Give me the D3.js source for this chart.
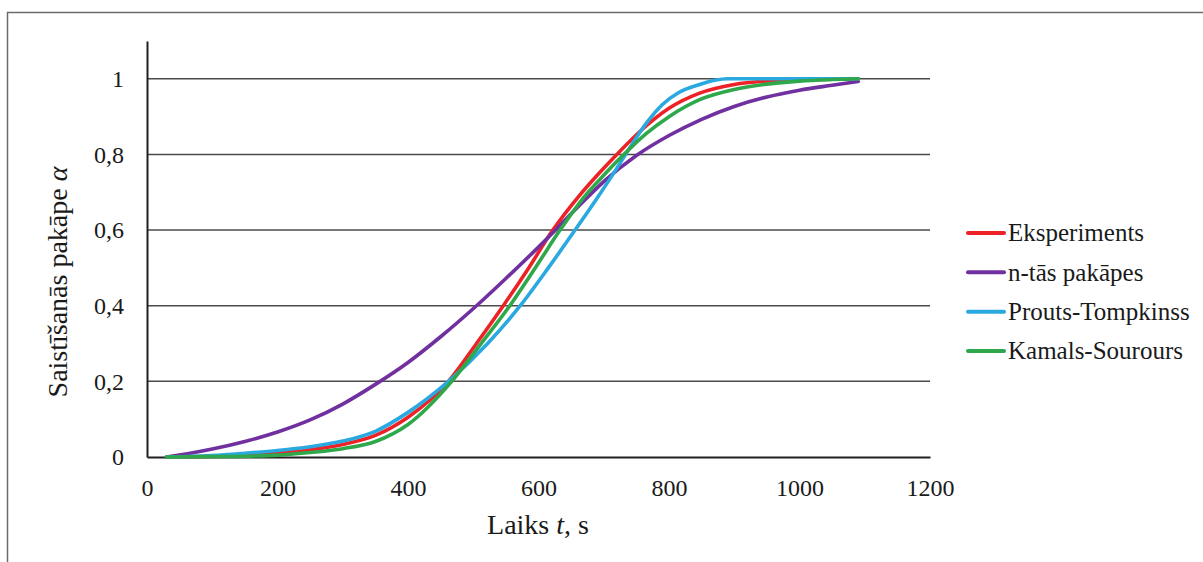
<!DOCTYPE html>
<html>
<head>
<meta charset="utf-8">
<script src="https://cdn.jsdelivr.net/npm/d3@7"></script>
<style>
  html, body { margin: 0; padding: 0; background: #fff; }
  svg { display: block; }
  text { font-family: "Liberation Serif", "Times New Roman", serif; fill: #1a1a1a; }
</style>
</head>
<body>
<svg id="chart" width="1203" height="562"></svg>
<script>
// Curing degree α versus time t (s) for the experiment and three kinetic models
const seriesNames = ["Eksperiments", "n-tās pakāpes", "Prouts-Tompkinss", "Kamals-Sourours"];
const seriesColors = ["#ED2226", "#7030A0", "#2AA8E0", "#2EA84B"];

const experiment = [
  [30,0],[100,0.002],[150,0.005],[200,0.010],[250,0.019],[300,0.033],[350,0.057],
  [400,0.105],[462,0.200],[505,0.300],[546,0.400],[585,0.500],[622,0.600],
  [662,0.690],[690,0.745],[720,0.800],[760,0.868],[800,0.922],[847,0.962],[900,0.985],
  [950,0.994],[1000,0.997],[1050,0.999],[1090,1.000]
];
const nthOrder = [
  [30,0],[60,0.008],[100,0.021],[150,0.041],[200,0.066],[250,0.098],[300,0.140],
  [350,0.192],[400,0.250],[450,0.318],[505,0.400],[550,0.472],[600,0.555],[625,0.598],
  [650,0.643],[676,0.688],[700,0.728],[750,0.797],[800,0.850],[850,0.893],[900,0.927],
  [950,0.952],[1000,0.970],[1050,0.983],[1090,0.993]
];
const proutTompkins = [
  [30,0],[100,0.004],[150,0.010],[200,0.017],[250,0.027],[300,0.042],[350,0.068],
  [400,0.118],[462,0.200],[522,0.300],[572,0.400],[615,0.500],[656,0.600],[690,0.685],
  [715,0.750],[740,0.818],[765,0.882],[790,0.932],[815,0.964],[847,0.985],[870,0.996],
  [890,1.000],[950,1.000],[1000,1.000],[1090,1.000]
];
const kamalSourour = [
  [30,0],[100,0.001],[150,0.002],[200,0.005],[250,0.012],[300,0.022],[350,0.041],
  [400,0.086],[467,0.200],[512,0.300],[556,0.400],[595,0.500],[633,0.600],
  [671,0.690],[700,0.745],[728,0.795],[765,0.855],[800,0.900],[847,0.945],[900,0.972],
  [950,0.986],[1000,0.994],[1050,0.998],[1090,1.000]
];
const seriesData = [experiment, nthOrder, proutTompkins, kamalSourour];

const xTicks = [0, 200, 400, 600, 800, 1000, 1200];
const yTicks = [0, 0.2, 0.4, 0.6, 0.8, 1];
const yTickLabels = ["0", "0,2", "0,4", "0,6", "0,8", "1"];

const svg = d3.select("#chart");

// outer chart frame
svg.append("rect")
  .attr("x", 7.5).attr("y", 12.5)
  .attr("width", 1400).attr("height", 1000)
  .attr("fill", "none").attr("stroke", "#6b6b6b").attr("stroke-width", 1.5);

const x = d3.scaleLinear().domain([0, 1200]).range([147, 930]);
const y = d3.scaleLinear().domain([0, 1.1]).range([457, 41]);

// horizontal gridlines
svg.append("g").selectAll("line")
  .data(yTicks.filter(v => v > 0))
  .join("line")
  .attr("x1", x(0)).attr("x2", x(1200))
  .attr("y1", d => y(d)).attr("y2", d => y(d))
  .attr("stroke", "#4a4a4a").attr("stroke-width", 1.5);

// axes
const xAxis = svg.append("g").attr("transform", `translate(0,${y(0)})`)
  .call(d3.axisBottom(x).tickValues(xTicks).tickSize(0).tickPadding(22).tickFormat(d3.format("d")));
const yAxis = svg.append("g").attr("transform", `translate(${x(0)},0)`)
  .call(d3.axisLeft(y).tickValues(yTicks).tickSize(0).tickPadding(23)
    .tickFormat((d, i) => yTickLabels[i]));

[xAxis, yAxis].forEach(g => {
  g.attr("font-family", null);
  g.select(".domain").attr("stroke", "#231f20").attr("stroke-width", 2);
  g.selectAll("text").style("font-family", '"Liberation Serif", "Times New Roman", serif')
    .style("font-size", "24px").attr("fill", "#1a1a1a");
});
xAxis.selectAll("text").attr("dy", "0.71em");

// series lines
const line = d3.line().x(d => x(d[0])).y(d => y(d[1])).curve(d3.curveMonotoneX);
svg.append("g").selectAll("path")
  .data(seriesData)
  .join("path")
  .attr("d", line)
  .attr("fill", "none")
  .attr("stroke", (d, i) => seriesColors[i])
  .attr("stroke-width", 3.6)
  .attr("stroke-linecap", "round")
  .attr("stroke-linejoin", "round");

// axis titles
const xTitle = svg.append("text")
  .attr("x", 538).attr("y", 534)
  .attr("text-anchor", "middle")
  .style("font-size", "28px");
xTitle.append("tspan").text("Laiks ");
xTitle.append("tspan").style("font-style", "italic").text("t");
xTitle.append("tspan").text(", s");

const yTitle = svg.append("text")
  .attr("transform", "translate(67,282) rotate(-90)")
  .attr("text-anchor", "middle")
  .style("font-size", "28px");
yTitle.append("tspan").text("Saistīšanās pakāpe ");
yTitle.append("tspan").style("font-style", "italic").text("α");

// legend
const legend = svg.append("g");
const rowY = d3.scalePoint().domain(seriesNames).range([233, 351]);
const rows = legend.selectAll("g").data(seriesNames).join("g")
  .attr("transform", d => `translate(0,${rowY(d)})`);
rows.append("line")
  .attr("x1", 968).attr("x2", 1004)
  .attr("stroke", (d, i) => seriesColors[i])
  .attr("stroke-width", 4)
  .attr("stroke-linecap", "round");
rows.append("text")
  .attr("x", 1008).attr("dy", "0.33em")
  .style("font-size", "25px")
  .text(d => d);
</script>
</body>
</html>
